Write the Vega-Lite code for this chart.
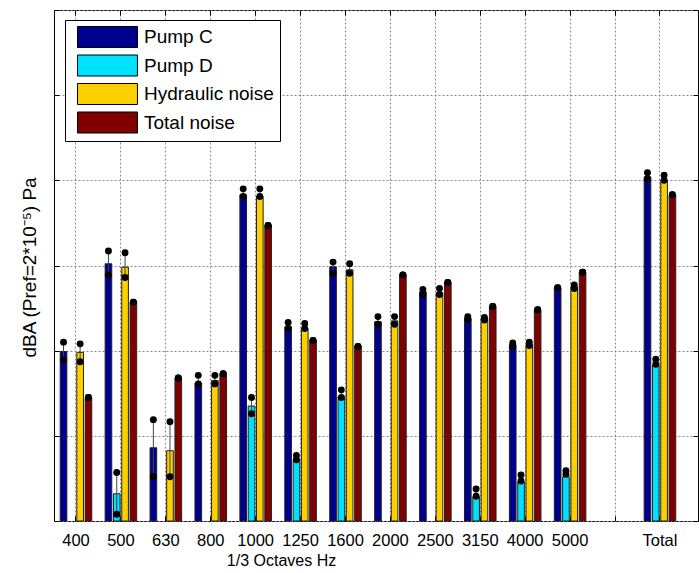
{
  "$schema": "https://vega.github.io/schema/vega-lite/v6.json",
  "width": 644,
  "height": 511,
  "autosize": {"type": "none"},
  "padding": {"left": 54, "top": 10, "right": 1, "bottom": 52},
  "background": "white",
  "config": {
    "view": {"stroke": "black", "strokeWidth": 1},
    "font": "Liberation Sans"
  },
  "data": {
    "values": [
      {"freq": "400", "series": "Pump C", "value": 19.9, "lo": 18.9, "hi": 21.0},
      {"freq": "400", "series": "Hydraulic noise", "value": 19.8, "lo": 18.7, "hi": 20.8},
      {"freq": "400", "series": "Total noise", "value": 14.5, "lo": 14.5, "hi": 14.5},
      {"freq": "500", "series": "Pump C", "value": 30.2, "lo": 28.9, "hi": 31.7},
      {"freq": "500", "series": "Pump D", "value": 3.2, "lo": 0.8, "hi": 5.7},
      {"freq": "500", "series": "Hydraulic noise", "value": 29.8, "lo": 28.6, "hi": 31.5},
      {"freq": "500", "series": "Total noise", "value": 25.7, "lo": 25.7, "hi": 25.7},
      {"freq": "630", "series": "Pump C", "value": 8.6, "lo": 5.2, "hi": 11.9},
      {"freq": "630", "series": "Hydraulic noise", "value": 8.25, "lo": 5.2, "hi": 11.65},
      {"freq": "630", "series": "Total noise", "value": 16.8, "lo": 16.8, "hi": 16.8},
      {"freq": "800", "series": "Pump C", "value": 16.2, "lo": 16.1, "hi": 17.1},
      {"freq": "800", "series": "Hydraulic noise", "value": 16.5, "lo": 16.1, "hi": 17.1},
      {"freq": "800", "series": "Total noise", "value": 17.3, "lo": 17.3, "hi": 17.3},
      {"freq": "1000", "series": "Pump C", "value": 38.3, "lo": 38.1, "hi": 39.0},
      {"freq": "1000", "series": "Pump D", "value": 13.5, "lo": 12.6, "hi": 14.5},
      {"freq": "1000", "series": "Hydraulic noise", "value": 38.1, "lo": 38.1, "hi": 39.0},
      {"freq": "1000", "series": "Total noise", "value": 34.7, "lo": 34.7, "hi": 34.7},
      {"freq": "1250", "series": "Pump C", "value": 22.8, "lo": 22.6, "hi": 23.3},
      {"freq": "1250", "series": "Pump D", "value": 7.2, "lo": 7.2, "hi": 7.7},
      {"freq": "1250", "series": "Hydraulic noise", "value": 22.6, "lo": 22.6, "hi": 23.2},
      {"freq": "1250", "series": "Total noise", "value": 21.2, "lo": 21.2, "hi": 21.2},
      {"freq": "1600", "series": "Pump C", "value": 29.85, "lo": 29.1, "hi": 30.4},
      {"freq": "1600", "series": "Pump D", "value": 14.6, "lo": 14.5, "hi": 15.4},
      {"freq": "1600", "series": "Hydraulic noise", "value": 29.5, "lo": 29.1, "hi": 30.2},
      {"freq": "1600", "series": "Total noise", "value": 20.5, "lo": 20.5, "hi": 20.5},
      {"freq": "2000", "series": "Pump C", "value": 23.4, "lo": 23.1, "hi": 24.0},
      {"freq": "2000", "series": "Hydraulic noise", "value": 23.5, "lo": 23.1, "hi": 24.0},
      {"freq": "2000", "series": "Total noise", "value": 28.9, "lo": 28.9, "hi": 28.9},
      {"freq": "2500", "series": "Pump C", "value": 26.9, "lo": 26.6, "hi": 27.2},
      {"freq": "2500", "series": "Hydraulic noise", "value": 26.8, "lo": 26.6, "hi": 27.3},
      {"freq": "2500", "series": "Total noise", "value": 28.0, "lo": 28.0, "hi": 28.0},
      {"freq": "3150", "series": "Pump C", "value": 23.8, "lo": 23.7, "hi": 24.0},
      {"freq": "3150", "series": "Pump D", "value": 2.85, "lo": 2.9, "hi": 3.75},
      {"freq": "3150", "series": "Hydraulic noise", "value": 23.8, "lo": 23.6, "hi": 23.9},
      {"freq": "3150", "series": "Total noise", "value": 25.2, "lo": 25.2, "hi": 25.2},
      {"freq": "4000", "series": "Pump C", "value": 20.7, "lo": 20.5, "hi": 20.9},
      {"freq": "4000", "series": "Pump D", "value": 4.6, "lo": 4.7, "hi": 5.4},
      {"freq": "4000", "series": "Hydraulic noise", "value": 20.7, "lo": 20.6, "hi": 21.0},
      {"freq": "4000", "series": "Total noise", "value": 24.8, "lo": 24.8, "hi": 24.8},
      {"freq": "5000", "series": "Pump C", "value": 27.4, "lo": 27.4, "hi": 27.4},
      {"freq": "5000", "series": "Pump D", "value": 5.2, "lo": 5.5, "hi": 5.9},
      {"freq": "5000", "series": "Hydraulic noise", "value": 27.5, "lo": 27.3, "hi": 27.7},
      {"freq": "5000", "series": "Total noise", "value": 29.2, "lo": 29.2, "hi": 29.2},
      {"freq": "Total", "series": "Pump C", "value": 40.4, "lo": 40.2, "hi": 40.9},
      {"freq": "Total", "series": "Pump D", "value": 18.3, "lo": 18.4, "hi": 19.0},
      {"freq": "Total", "series": "Hydraulic noise", "value": 40.0, "lo": 40.0, "hi": 40.6},
      {"freq": "Total", "series": "Total noise", "value": 38.3, "lo": 38.3, "hi": 38.3}
    ]
  },
  "resolve": {"axis": {"x": "independent", "y": "independent"}},
  "layer": [
    {
      "mark": {"type": "bar", "stroke": "#222222", "strokeWidth": 1},
      "encoding": {
        "x": {
          "field": "freq", "type": "nominal",
          "scale": {
            "domain": ["400", "500", "630", "800", "1000", "1250", "1600", "2000", "2500", "3150", "4000", "5000", "gap", "Total"],
            "paddingInner": 0.24, "paddingOuter": 0.2885, "align": 0.19
          },
          "axis": {
            "orient": "bottom",
            "title": "1/3 Octaves Hz",
            "labelExpr": "datum.value == 'gap' ? '' : datum.value",
            "labelAngle": 0,
            "labelFont": "Liberation Sans",
            "labelFontSize": 16.5,
            "labelColor": "black",
            "labelBaseline": "alphabetic",
            "labelPadding": 29.5,
            "labelOverlap": false,
            "titleFont": "Liberation Sans",
            "titleFontSize": 16,
            "titleFontWeight": "normal",
            "titleColor": "black",
            "titleBaseline": "alphabetic",
            "titleX": 227,
            "titleY": 44.5,
            "domain": false,
            "ticks": true,
            "tickSize": -5,
            "tickColor": "black",
            "bandPosition": 0.5,
            "grid": true,
            "gridColor": "#888888",
            "gridDash": [2, 2],
            "gridOpacity": 1
          }
        },
        "xOffset": {
          "field": "series", "type": "nominal",
          "scale": {"domain": ["Pump C", "Pump D", "Hydraulic noise", "Total noise"], "paddingInner": 0.2, "paddingOuter": 0.155}
        },
        "y": {
          "field": "value", "type": "quantitative",
          "scale": {"domain": [0, 60], "nice": false},
          "axis": {
            "orient": "left",
            "title": "dBA (Pref=2*10⁻⁵) Pa",
            "titleFont": "Liberation Sans",
            "titleFontSize": 19,
            "titleFontWeight": "normal",
            "titleColor": "black",
            "titleBaseline": "alphabetic",
            "titleX": -19,
            "titleY": 257,
            "values": [0, 10, 20, 30, 40, 50, 60],
            "labels": false,
            "domain": false,
            "ticks": true,
            "tickSize": -5,
            "tickColor": "black",
            "grid": true,
            "gridColor": "#888888",
            "gridDash": [2, 2],
            "gridOpacity": 1
          }
        },
        "color": {
          "field": "series", "type": "nominal",
          "scale": {
            "domain": ["Pump C", "Pump D", "Hydraulic noise", "Total noise"],
            "range": ["#00008F", "#00E0FF", "#FFD000", "#800000"]
          },
          "legend": {
            "title": null,
            "orient": "none",
            "legendX": 11,
            "legendY": 10,
            "fillColor": "white",
            "strokeColor": "black",
            "padding": 6,
            "cornerRadius": 0,
            "symbolType": "M-0.43,-1H5.28V1H-0.43Z",
            "symbolSize": 441,
            "symbolStrokeColor": "black",
            "symbolStrokeWidth": 1,
            "symbolOpacity": 1,
            "labelOffset": 51,
            "labelFont": "Liberation Sans",
            "labelFontSize": 19,
            "labelColor": "black",
            "labelLimit": 400,
            "rowPadding": 2.5
          }
        }
      }
    },
    {
      "mark": {"type": "rule", "color": "#444444", "strokeWidth": 1},
      "encoding": {
        "x": {
          "field": "freq", "type": "nominal",
          "axis": {
            "orient": "top", "labels": false, "title": null, "domain": false,
            "ticks": true, "tickSize": -5, "tickColor": "black", "bandPosition": 0.5, "grid": false
          }
        },
        "xOffset": {"field": "series", "type": "nominal"},
        "y": {
          "field": "lo", "type": "quantitative",
          "axis": {
            "orient": "right", "labels": false, "title": null, "domain": false,
            "values": [0, 10, 20, 30, 40, 50, 60],
            "ticks": true, "tickSize": -5, "tickColor": "black", "grid": false
          }
        },
        "y2": {"field": "hi"}
      }
    },
    {
      "mark": {"type": "circle", "color": "black", "size": 48, "opacity": 1},
      "encoding": {
        "x": {"field": "freq", "type": "nominal", "axis": null},
        "xOffset": {"field": "series", "type": "nominal"},
        "y": {"field": "lo", "type": "quantitative", "axis": null}
      }
    },
    {
      "mark": {"type": "circle", "color": "black", "size": 48, "opacity": 1},
      "encoding": {
        "x": {"field": "freq", "type": "nominal", "axis": null},
        "xOffset": {"field": "series", "type": "nominal"},
        "y": {"field": "hi", "type": "quantitative", "axis": null}
      }
    }
  ]
}
